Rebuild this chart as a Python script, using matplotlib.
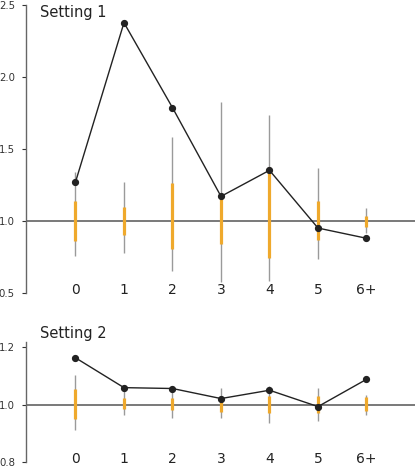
import matplotlib
matplotlib.use("Agg")
import matplotlib.pyplot as plt
import matplotlib.transforms as mtransforms

categories = ["0", "1", "2", "3", "4", "5", "6+"]

# Setting 1
s1_point = [1.27, 2.377, 1.787, 1.171, 1.352, 0.951, 0.88]
s1_lo = [0.757, 0.78, 0.655, 0.579, 0.58, 0.734, 0.919]
s1_hi = [1.338, 1.269, 1.585, 1.828, 1.736, 1.37, 1.088]
s1_q1 = [0.861, 0.903, 0.806, 0.84, 0.745, 0.868, 0.958]
s1_q3 = [1.139, 1.097, 1.262, 1.169, 1.373, 1.139, 1.037]

# Setting 2
s2_point = [1.163, 1.059, 1.056, 1.021, 1.05, 0.993, 1.088]
s2_lo = [0.91, 0.964, 0.955, 0.953, 0.936, 0.944, 0.964]
s2_hi = [1.104, 1.048, 1.045, 1.057, 1.066, 1.057, 1.035]
s2_q1 = [0.95, 0.985, 0.981, 0.974, 0.970, 0.970, 0.979]
s2_q3 = [1.053, 1.023, 1.022, 1.012, 1.03, 1.031, 1.025]

W, H = 415, 469
fig = plt.figure(figsize=(W / 100, H / 100), dpi=100)

ORANGE = "#EFA92C"
GRAY = "#9a9a9a"
DARK = "#222222"

def make_panel(rect_px, point, lo, hi, q1, q3, ylim, yticks, label_y_px):
    l, t, r, b = rect_px
    ax = fig.add_axes([l / W, 1 - b / H, (r - l) / W, (b - t) / H])
    xs = list(range(len(categories)))
    ax.vlines(xs, lo, hi, color=GRAY, lw=1.0, zorder=2)
    ax.vlines(xs, q1, q3, color=ORANGE, lw=2.3, zorder=3)
    ax.axhline(1.0, color="#555555", lw=1.1, zorder=1)
    ax.plot(xs, point, color=DARK, lw=1.0, marker="o", ms=4.2, zorder=4)
    ax.set_xlim(-1.02, 7.0)
    ax.set_ylim(*ylim)
    ax.set_yticks(yticks)
    ax.set_yticklabels([f"{v:.1f}" for v in yticks])
    ax.tick_params(axis="y", length=3, width=0.8, pad=5, labelsize=7.3,
                   colors="#333333")
    ax.set_xticks([])
    for s in ["top", "right", "bottom"]:
        ax.spines[s].set_visible(False)
    ax.spines["left"].set_color("#666666")
    ax.spines["left"].set_linewidth(1.0)
    trans = mtransforms.blended_transform_factory(ax.transData, fig.transFigure)
    for x, lab in zip(xs, categories):
        ax.text(x, 1 - label_y_px / H, lab, transform=trans, ha="center",
                va="center", fontsize=10, color="#222222")
    return ax

ax1 = make_panel((26, 5, 415, 293), s1_point, s1_lo, s1_hi, s1_q1, s1_q3,
                 (0.5, 2.5), [0.5, 1.0, 1.5, 2.0, 2.5], 290.5)
ax2 = make_panel((26, 342, 415, 462), s2_point, s2_lo, s2_hi, s2_q1, s2_q3,
                 (0.8, 1.218), [0.8, 1.0, 1.2], 459)

fig.text(40 / W, 1 - 12 / H, "Setting 1", fontsize=10.5, ha="left", va="center",
         color="#222222")
fig.text(40 / W, 1 - 333 / H, "Setting 2", fontsize=10.5, ha="left", va="center",
         color="#222222")

fig.savefig("out.png", dpi=100)
